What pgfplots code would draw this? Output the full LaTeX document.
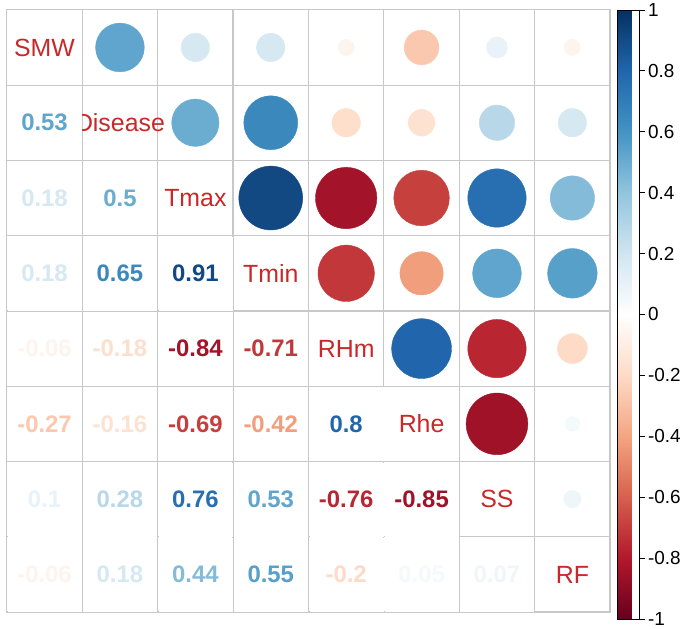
\documentclass[border=0pt]{standalone}
\usepackage{pgfplots}
\pgfplotsset{compat=1.18}
\usepackage{pgfplotstable}
\usepackage{fontspec}
\setmainfont{Liberation Sans}
\definecolor{tlred}{RGB}{200,40,40}
\definecolor{gridgray}{RGB}{200,200,200}
\pgfplotsset{colormap={RdBu}{
 rgb255=(103,0,31) rgb255=(178,24,43) rgb255=(214,96,77) rgb255=(244,165,130)
 rgb255=(253,219,199) rgb255=(255,255,255) rgb255=(209,229,240) rgb255=(146,197,222)
 rgb255=(67,147,195) rgb255=(33,102,172) rgb255=(5,48,97)}}

% upper triangle: circles (x = column, y = row)
\pgfplotstableread{
x y r
2 1 0.53
3 1 0.18
4 1 0.18
5 1 -0.06
6 1 -0.27
7 1 0.1
8 1 -0.06
3 2 0.5
4 2 0.65
5 2 -0.18
6 2 -0.16
7 2 0.28
8 2 0.18
4 3 0.91
5 3 -0.84
6 3 -0.69
7 3 0.76
8 3 0.44
5 4 -0.71
6 4 -0.42
7 4 0.53
8 4 0.55
6 5 0.8
7 5 -0.76
8 5 -0.2
7 6 -0.85
8 6 0.05
8 7 0.07
}\uppertab

% lower triangle: numbers
\pgfplotstableread{
x y r
1 2 0.53
1 3 0.18
1 4 0.18
1 5 -0.06
1 6 -0.27
1 7 0.1
1 8 -0.06
2 3 0.5
2 4 0.65
2 5 -0.18
2 6 -0.16
2 7 0.28
2 8 0.18
3 4 0.91
3 5 -0.84
3 6 -0.69
3 7 0.76
3 8 0.44
4 5 -0.71
4 6 -0.42
4 7 0.53
4 8 0.55
5 6 0.8
5 7 -0.76
5 8 -0.2
6 7 -0.85
6 8 0.05
7 8 0.07
}\lowertab

\pgfplotsset{diaglab/.style={only marks, mark=text, text mark as node=true,
  text mark={#1},
  text mark style={text=tlred, font=\fontsize{25}{25}\selectfont,
    anchor=center, inner sep=0pt}}}

\begin{document}
\begin{tikzpicture}
\begin{axis}[
  name=main,
  width=604bp, height=603bp, scale only axis,
  xmin=0.5, xmax=8.5, ymin=0.5, ymax=8.5, y dir=reverse,
  xtick={0.5,1.5,2.5,3.5,4.5,5.5,6.5,7.5,8.5},
  ytick={0.5,1.5,2.5,3.5,4.5,5.5,6.5,7.5,8.5},
  xticklabels={}, yticklabels={},
  grid=major, major grid style={gridgray, line width=1.2bp},
  axis line style={gridgray, line width=1.2bp},
  major tick length=0pt,
  axis on top, clip=false,
  point meta min=-1, point meta max=1,
  colormap name=RdBu,
  colorbar,
  colorbar style={
    at={(parent axis.north east)}, anchor=north west, xshift=-1bp,
    width=22bp, height=610bp, scale only axis,
    ytick={-1,-0.8,-0.6,-0.4,-0.2,0,0.2,0.4,0.6,0.8,1},
    yticklabel style={font=\fontsize{19}{19}\selectfont,
      /pgf/number format/assume math mode=true,
      /pgf/number format/fixed, /pgf/number format/precision=1},
    axis line style={black, line width=0.6bp},
    tick style={black, line width=0.6bp},
    major tick length=5bp, tick align=outside,
    ytick pos=right, yticklabel pos=right,
    grid=none,
  },
]
% circles
\addplot[scatter, only marks, mark=*, point meta=explicit,
  scatter/use mapped color={draw=mapped color, fill=mapped color},
  visualization depends on={33.5*sqrt(abs(\thisrow{r})) \as \rad},
  scatter/@pre marker code/.append style={/tikz/mark size=\rad bp}]
  table[x=x, y=y, meta=r]{\uppertab};
% diagonal names
\addplot[diaglab={SMW}] coordinates {(1,1)};
\addplot[diaglab={Disease}] coordinates {(2,2)};
\addplot[diaglab={Tmax}] coordinates {(3,3)};
\addplot[diaglab={Tmin}] coordinates {(4,4)};
\addplot[diaglab={RHm}] coordinates {(5,5)};
\addplot[diaglab={Rhe}] coordinates {(6,6)};
\addplot[diaglab={SS}] coordinates {(7,7)};
\addplot[diaglab={RF}] coordinates {(8,8)};
% white cell backgrounds of the lower triangle
\addplot[white, only marks, mark=square*, mark size=36.6bp,
  mark options={white, line width=0.2bp}]
  table[x=x, y=y]{\lowertab};
% numbers
\addplot[scatter, only marks, point meta=explicit,
  mark=text, text mark as node=true,
  visualization depends on={\thisrow{r} \as \rv},
  text mark={\pgfmathprintnumber[fixed, precision=2, assume math mode=true]{\rv}},
  scatter/use mapped color={color=mapped color},
  text mark style={font=\fontsize{24}{24}\selectfont\bfseries,
    anchor=center, inner sep=0pt}]
  table[x=x, y=y, meta=r]{\lowertab};
\end{axis}
\path (main.south west) ++(-6bp,-16bp);
\path (main.north east) ++(75bp,9bp);
\end{tikzpicture}
\end{document}
